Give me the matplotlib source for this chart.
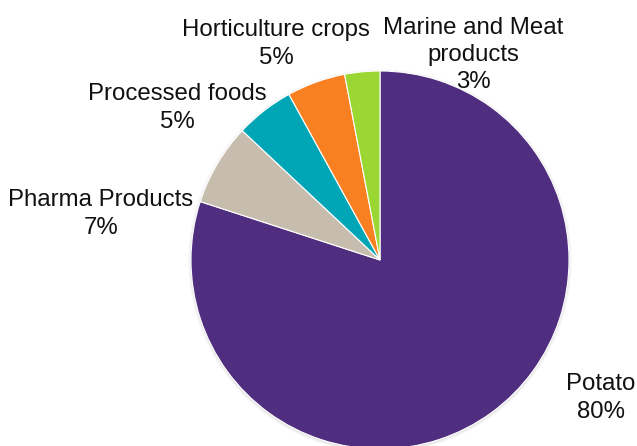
import matplotlib.pyplot as plt
from matplotlib.patches import Circle

labels = ["Potato", "Pharma Products", "Processed foods", "Horticulture crops", "Marine and Meat\nproducts"]
values = [80, 7, 5, 5, 3]
colors = ["#4F2D7F", "#C6BDAF", "#00A6B5", "#F98021", "#9BD733"]

# label anchor points in pixels (x from left, y from top)
label_pos = [(601, 398), (101, 214), (177, 108), (276, 44), (473, 55)]

W, H = 637, 446
fig = plt.figure(figsize=(W / 100, H / 100), dpi=100)
ax = fig.add_axes([0, 0, 1, 1])
ax.set_xlim(0, W)
ax.set_ylim(0, H)
ax.set_aspect("equal")
ax.axis("off")

cx, cy, r = 380, H - 260, 189

# faint shadow ring
for i, a in enumerate([0.10, 0.06, 0.03]):
    ax.add_patch(Circle((cx, cy - 1), r + 1 + i, color="#808080", alpha=a, lw=0, zorder=0))

ax.pie(values, colors=colors, startangle=90, counterclock=False,
       center=(cx, cy), radius=r, frame=True,
       wedgeprops=dict(linewidth=0.8, edgecolor="white"))
ax.set_xlim(0, W)
ax.set_ylim(0, H)
ax.axis("off")

for lab, v, (x, y) in zip(labels, values, label_pos):
    ax.text(x, H - y, f"{lab}\n{v}%", ha="center", va="center",
            fontsize=17.3, family="Liberation Sans", color="#111111", linespacing=1.3)

fig.savefig("out.png", dpi=100)
